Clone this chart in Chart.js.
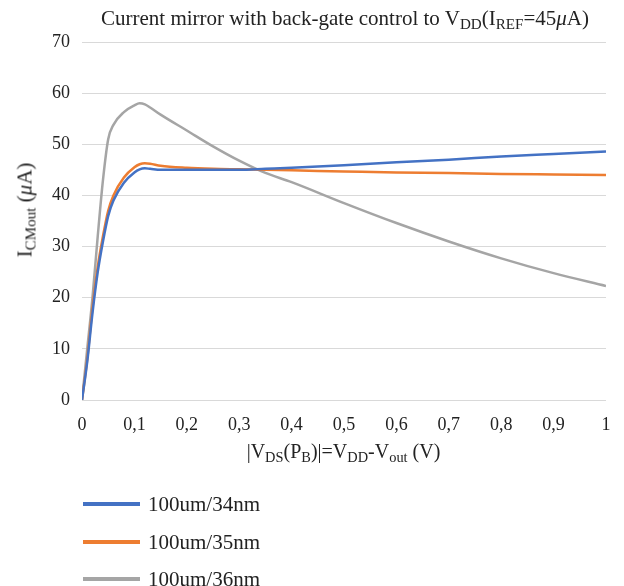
<!DOCTYPE html>
<html>
<head>
<meta charset="utf-8">
<script src="https://cdn.jsdelivr.net/npm/chart.js@4.4.0/dist/chart.umd.min.js"></script>
<style>
  html, body { margin: 0; padding: 0; background: #fff; }
  #wrap { position: relative; width: 624px; height: 586px; font-family: "Liberation Serif", "DejaVu Serif", serif; color: #222; }
  #chart { position: absolute; left: 0; top: 0; }
  .lbl { position: absolute; white-space: nowrap; line-height: 1; }
  .lbl sub { font-size: 0.72em; vertical-align: -0.25em; line-height: 0; }
  #title { left: 0; width: 690px; top: 8px; text-align: center; font-size: 21px; }
  #xtitle { left: 0; width: 687px; top: 441px; text-align: center; font-size: 20px; }
  #ytitle { left: 25px; top: 210px; transform: translate(-50%, -50%) rotate(-90deg); font-size: 21px; }
  #legend { position: absolute; left: 83px; top: 492px; }
  .item { position: absolute; left: 0; height: 22px; font-size: 21px; white-space: nowrap; }
  .item .swatch { position: absolute; left: 0; top: 10px; width: 57px; height: 4px; }
  .item span.txt { position: absolute; left: 65px; top: 0; }
</style>
</head>
<body>
<div id="wrap">
  <canvas id="chart" width="624" height="586"></canvas>
  <div class="lbl" id="title">Current mirror with back-gate control to V<sub>DD</sub>(I<sub>REF</sub>=45<i>μ</i>A)</div>
  <div class="lbl" id="ytitle">I<sub>CMout</sub> (<i>μ</i>A)</div>
  <div class="lbl" id="xtitle">|V<sub>DS</sub>(P<sub>B</sub>)|=V<sub>DD</sub>-V<sub>out</sub> (V)</div>
  <div id="legend"></div>
</div>
<script>
// Sweep of |VDS| in volts
const vds = [0, 0.01, 0.02, 0.03, 0.04, 0.05, 0.06, 0.08, 0.1, 0.11, 0.12, 0.13, 0.15, 0.2, 0.25, 0.3, 0.35, 0.4, 0.5, 0.6, 0.7, 0.8, 0.9, 1.0];

// Output current in uA
const i34nm = [0, 7.5, 17, 25, 31, 36, 39, 42.5, 44.5, 45.1, 45.3, 45.2, 45.0, 45.0, 45.0, 45.0, 45.2, 45.4, 45.9, 46.5, 47.0, 47.6, 48.1, 48.6];
const i35nm = [0, 8, 18, 26, 32, 37, 40, 43.5, 45.5, 46.1, 46.3, 46.2, 45.8, 45.4, 45.2, 45.1, 45.0, 44.9, 44.7, 44.5, 44.4, 44.2, 44.1, 44.0];
const i36nm = [0, 10, 20, 32, 43, 51, 53.8, 56.3, 57.6, 58.0, 57.8, 57.2, 55.8, 52.7, 49.6, 46.8, 44.4, 42.6, 38.5, 34.6, 31.0, 27.7, 24.8, 22.3];

const seriesNames = ['100um/34nm', '100um/35nm', '100um/36nm'];
const seriesColors = ['#4472C4', '#ED7D31', '#A5A5A5'];
const xTicks = [0, 0.1, 0.2, 0.3, 0.4, 0.5, 0.6, 0.7, 0.8, 0.9, 1];
const yTicks = [0, 10, 20, 30, 40, 50, 60, 70];

function toPoints(ys) {
    return vds.map((x, i) => ({ x: x, y: ys[i] }));
}

const tickFont = { family: '"Liberation Serif", serif', size: 18 };

const ctx = document.getElementById('chart').getContext('2d');
const chart = new Chart(ctx, {
    type: 'line',
    data: {
        datasets: [i34nm, i35nm, i36nm].map((ys, k) => ({
            label: seriesNames[k],
            data: toPoints(ys),
            borderColor: seriesColors[k],
            backgroundColor: seriesColors[k],
            borderWidth: 2.5,
            pointRadius: 0,
            cubicInterpolationMode: 'monotone',
            fill: false
        }))
    },
    options: {
        responsive: false,
        animation: false,
        layout: { padding: { left: 0, right: 18, top: 42, bottom: 0 } },
        plugins: {
            legend: { display: false },
            tooltip: { enabled: false }
        },
        scales: {
            x: {
                type: 'linear',
                min: 0,
                max: 1,
                grid: { display: false },
                border: { display: false },
                afterBuildTicks: s => { s.ticks = xTicks.map(v => ({ value: v })); },
                afterFit: s => { s.height = 186; },
                ticks: {
                    color: '#222',
                    font: tickFont,
                    padding: 6,
                    maxRotation: 0,
                    callback: v => String(v).replace('.', ',')
                }
            },
            y: {
                min: 0,
                max: 70,
                grid: { color: '#d9d9d9', lineWidth: 1, drawTicks: false },
                border: { display: false },
                afterBuildTicks: s => { s.ticks = yTicks.map(v => ({ value: v })); },
                afterFit: s => { s.width = 82; },
                ticks: {
                    color: '#222',
                    font: tickFont,
                    padding: 12
                }
            }
        }
    }
});

// Legend stacked under the chart
const legend = document.getElementById('legend');
const legendTops = [0, 38, 75];
seriesNames.forEach((name, k) => {
    const item = document.createElement('div');
    item.className = 'item';
    item.style.top = legendTops[k] + 'px';
    item.innerHTML = '<div class="swatch" style="background:' + seriesColors[k] + '"></div><span class="txt">' + name + '</span>';
    legend.appendChild(item);
});
</script>
</body>
</html>
